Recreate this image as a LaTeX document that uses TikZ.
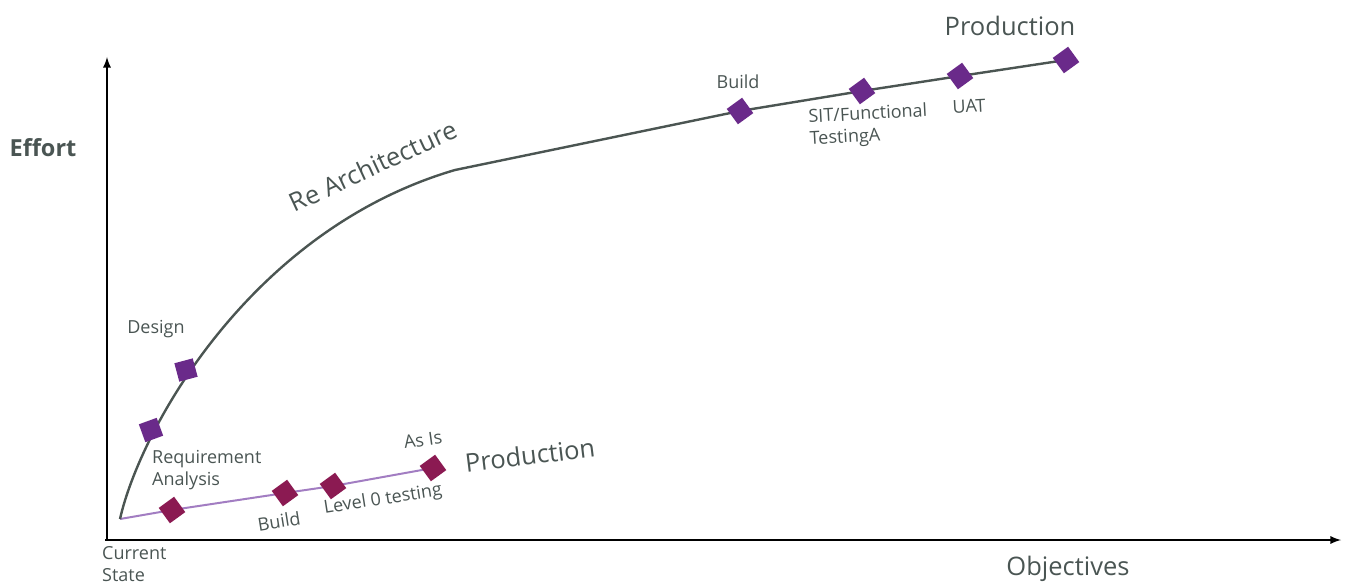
\documentclass[tikz,border=0pt]{standalone}
\usepackage{fontspec}
\setmainfont{Open Sans}
\usetikzlibrary{arrows,backgrounds}

\definecolor{txtgray}{HTML}{4A5553}
\definecolor{curvegray}{HTML}{4B5552}
\definecolor{archpurple}{HTML}{6A2A8A}
\definecolor{asismaroon}{HTML}{8B1A52}
\definecolor{asisline}{HTML}{A27DC2}

\tikzset{
  milestone/.style={fill=archpurple, minimum size=19pt, inner sep=0pt, rotate=#1},
  asisstone/.style={fill=asismaroon, minimum size=19pt, inner sep=0pt, rotate=#1},
  steplabel/.style={text=txtgray, font=\fontsize{18}{22}\selectfont, inner sep=0pt},
  biglabel/.style={text=txtgray, font=\fontsize{25.5}{30}\selectfont, inner sep=0pt},
}

\begin{document}
\begin{tikzpicture}[>=latex, x=1pt, y=-1pt]
\useasboundingbox (0,0) rectangle (1346,586);

% axes
\coordinate (corner) at (107,540);
\coordinate (ytop) at (107,57);
\coordinate (xend) at (1341,540);
\draw[->, line width=2.6pt] (corner) -- (ytop);
\draw[->, line width=2.6pt] (105,540) -- (xend);
\node[text=txtgray, font=\bfseries\fontsize{23.5}{26}\selectfont] (effort) at (43,148) {Effort};
\node[biglabel] (objectives) at (1068,569) {Objectives};

% start point
\coordinate (current) at (120,519);
\node[steplabel, anchor=west, align=left] (currentlbl) at (102,564) {Current\\State};

% as is track
\node[asisstone=36] (reqlow) at (172,510) {};
\node[asisstone=36] (buildlow) at (285,493) {};
\node[asisstone=36] (lvl0) at (333,486) {};
\node[asisstone=36] (asis) at (433,468) {};
\begin{scope}[on background layer]
\draw[asisline, line width=2pt] (current) -- (reqlow.center) -- (buildlow.center) -- (lvl0.center) -- (asis.center);
\end{scope}
\node[steplabel, rotate=9] (buildlowlbl) at (279,521) {Build};
\node[steplabel, rotate=9] (lvl0lbl) at (383,500) {Level 0 testing};
\node[steplabel, rotate=8] (asislbl) at (423,440) {As Is};
\node[biglabel, rotate=7] (prodlow) at (530,455) {Production};

% re architecture track
\node[milestone=20] (req) at (151,430) {};
\node[milestone=15] (design) at (186,370) {};
\coordinate (knee) at (455,170);
\node[milestone=36] (buildup) at (740,111) {};
\node[milestone=36] (sit) at (862,91) {};
\node[milestone=36] (uat) at (960,76) {};
\node[milestone=36] (produp) at (1066,60) {};
\begin{scope}[on background layer]
\draw[curvegray, line width=2.4pt] (current) .. controls (140,430) and (250,230) .. (knee)
  -- (buildup.center) -- (sit.center) -- (uat.center) -- (produp.center);
\end{scope}
\node[steplabel, anchor=west, align=left] (reqlbl) at (152,470) {Requirement\\Analysis};
\node[steplabel] (designlbl) at (156,329) {Design};
\node[biglabel, rotate=25] (rearch) at (373,166) {Re Architecture};
\node[steplabel] (builduplbl) at (738,82) {Build};
\node[steplabel, anchor=west, align=left, rotate=3] (sitlbl) at (809,129) {SIT/Functional\\TestingA};
\node[steplabel, rotate=3] (uatlbl) at (969,106) {UAT};
\node[biglabel] (produplbl) at (1010,26) {Production};

\end{tikzpicture}
\end{document}
